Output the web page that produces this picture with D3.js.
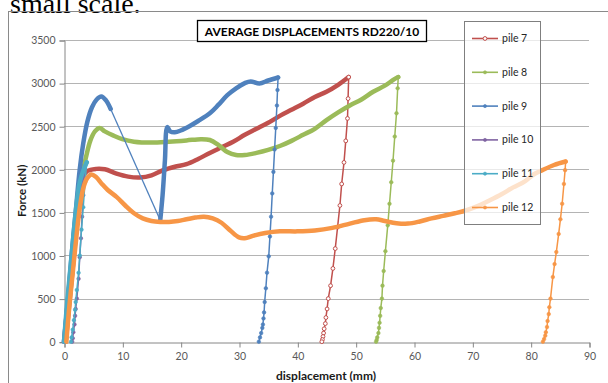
<!DOCTYPE html>
<html>
<head>
<meta charset="utf-8">
<script src="https://cdn.jsdelivr.net/npm/d3@7"></script>
<style>
  html, body { margin: 0; padding: 0; background: #fff; }
  svg { display: block; }
</style>
</head>
<body>
<svg id="chart" width="608" height="383"></svg>
<script>
// Axis ticks
const xTicks = [0, 10, 20, 30, 40, 50, 60, 70, 80, 90];
const yTicks = [0, 500, 1000, 1500, 2000, 2500, 3000, 3500];

// Series names and colours
const seriesNames = ["pile 7", "pile 8", "pile 9", "pile 10", "pile 11", "pile 12"];
const seriesColors = ["#C0504D", "#9BBB59", "#4F81BD", "#8064A2", "#4BACC6", "#F79646"];

// Loading branches [displacement mm, force kN]
const pile7Load = [[0.3,0],[1,500],[1.7,1000],[2.4,1500],[3.2,1900],[4,1980],[5.5,2005],[7,2000],[9,1950],[11,1915],[13,1905],[15,1930],[17,1990],[19,2030],[21,2060],[23,2120],[25,2190],[27,2255],[29,2320],[31,2400],[33,2470],[35,2540],[37,2620],[39,2690],[41,2760],[43,2840],[45,2900],[47,2980],[48.8,3070]];
const pile8Load = [[0.2,0],[0.8,500],[1.5,1000],[2.2,1500],[3,1900],[3.8,2150],[4.5,2330],[5.3,2440],[6.1,2480],[7,2440],[8.5,2390],[10,2350],[12,2320],[15,2310],[18,2320],[21,2335],[23.5,2350],[25,2340],[26.5,2280],[28,2200],[29.5,2165],[31,2165],[33,2190],[35,2225],[37,2270],[39,2330],[41,2400],[43,2470],[45,2570],[47,2660],[49,2740],[51,2810],[53,2900],[55,2970],[56.5,3040],[57.3,3070]];
const pile9Load = [[0,0],[0.7,500],[1.3,1000],[2,1500],[2.7,2000],[3.3,2300],[4,2550],[4.8,2720],[5.6,2810],[6.4,2845],[7.2,2800],[8,2700]];
const pile9Jump = [[8,2700],[16.5,1410]];
const pile9Reload = [[16.5,1410],[16.9,1700],[17.3,2100],[17.7,2490],[18.2,2440],[19,2430],[20,2450],[21.5,2500],[23,2560],[25,2650],[26.5,2750],[28,2860],[29.5,2940],[31,3000],[32,3020],[33.5,2995],[35,3030],[36.7,3065]];
const pile10Load = [[0,0],[0.7,500],[1.4,1000],[2.1,1500],[2.8,1800],[3.4,1950]];
const pile11Load = [[0,0],[0.6,500],[1.3,1000],[2,1500],[2.7,1850],[3.4,2000],[3.9,2080]];
const pile12Load = [[0.4,0],[0.9,400],[1.5,800],[2.1,1200],[2.7,1550],[3.3,1780],[4,1900],[4.7,1940],[5.5,1910],[6.5,1830],[7.5,1760],[9,1680],[10.5,1580],[12,1490],[13.5,1430],[15,1400],[16.5,1390],[18,1390],[19.5,1400],[21,1420],[22.5,1440],[24,1450],[25.5,1430],[27,1380],[28.5,1290],[30,1210],[31,1200],[32.5,1230],[34.5,1260],[37,1280],[40,1280],[43,1290],[46,1320],[49,1370],[51.5,1410],[53.5,1420],[55,1400],[57,1375],[59,1370],[61,1395],[63,1430],[65,1460],[67,1490],[69,1525],[71,1575],[73,1640],[75,1710],[77,1790],[79,1860],[80.5,1940],[82,1990],[84,2050],[86,2090]];

// Unloading branches (individual readings, drawn with markers)
const pile7Unload = [[48.8,3070],[48.7,2820],[48.6,2590],[48.3,2330],[48,2080],[47.6,1830],[47.3,1580],[46.9,1330],[46.5,1080],[46.1,850],[45.7,650],[45.3,500],[45.1,380],[44.9,280],[44.8,210],[44.6,150],[44.5,100],[44.4,60],[44.3,25],[44.2,0]];
const pile8Unload = [[57.3,3070],[57.2,2940],[57,2650],[56.7,2380],[56.4,2100],[56.1,1850],[55.8,1600],[55.5,1350],[55.1,1050],[54.8,820],[54.6,650],[54.5,500],[54.3,390],[54.2,300],[54.1,220],[54,160],[53.9,100],[53.7,50],[53.6,20],[53.5,0]];
const pile9Unload = [[36.7,3065],[36.6,2920],[36.5,2740],[36.3,2480],[36.1,2230],[35.9,1970],[35.7,1720],[35.5,1450],[35.3,1220],[35.1,990],[34.8,800],[34.6,620],[34.4,460],[34.3,340],[34.2,270],[34.1,200],[34,160],[33.8,100],[33.6,50],[33.4,0]];
const pile10Unload = [[3.4,1950],[3.3,1700],[3.1,1450],[2.9,1200],[2.7,980],[2.5,730],[2.2,500],[2.0,380],[1.9,300],[1.8,200],[1.6,110],[1.5,40],[1.4,0]];
const pile11Unload = [[3.9,2080],[3.6,1850],[3.3,1560],[3.0,1300],[2.7,1000],[2.5,800],[2.2,600],[2.0,460],[1.9,370],[1.7,250],[1.5,140],[1.3,50],[1.2,0]];
const pile12Unload = [[86,2090],[85.9,1990],[85.7,1830],[85.4,1600],[85.1,1420],[84.8,1250],[84.4,1040],[84.1,900],[83.8,750],[83.4,500],[83.2,400],[83.1,320],[82.9,240],[82.8,170],[82.6,110],[82.5,70],[82.3,30],[82.1,0]];

const loadBranches = [
  { s: 0, pts: pile7Load }, { s: 1, pts: pile8Load }, { s: 2, pts: pile9Load },
  { s: 2, pts: pile9Reload }, { s: 3, pts: pile10Load }, { s: 4, pts: pile11Load },
  { s: 5, pts: pile12Load }
];
const unloadBranches = [
  { s: 0, pts: pile7Unload }, { s: 1, pts: pile8Unload }, { s: 2, pts: pile9Unload },
  { s: 3, pts: pile10Unload }, { s: 4, pts: pile11Unload }, { s: 5, pts: pile12Unload }
];

const svg = d3.select("#chart");
const FONT = "Lato, 'Open Sans', 'Liberation Sans', sans-serif";

// Line of the surrounding document text, partly hidden above the chart frame
svg.append("text")
  .attr("x", 10).attr("y", 12.5)
  .attr("font-family", "'Liberation Serif', 'DejaVu Serif', serif")
  .attr("font-size", 28)
  .attr("fill", "#000")
  .text("small scale.");

// Chart frame
svg.append("rect")
  .attr("x", 8.5).attr("y", 11.5)
  .attr("width", 700).attr("height", 500)
  .attr("fill", "none")
  .attr("stroke", "#8a8a8a").attr("stroke-width", 1);

const x = d3.scaleLinear().domain([0, 90]).range([64, 589]);
const y = d3.scaleLinear().domain([0, 3500]).range([341.7, 40]);

// Horizontal gridlines
svg.append("g")
  .selectAll("line")
  .data(yTicks.filter(v => v > 0))
  .join("line")
  .attr("x1", x(0)).attr("x2", x(90))
  .attr("y1", d => Math.round(y(d)) + 0.5).attr("y2", d => Math.round(y(d)) + 0.5)
  .attr("stroke", "#b4b4b4").attr("stroke-width", 1);

// Axes
const yAxis = svg.append("g")
  .attr("transform", `translate(${x(0) + 0.5},0.5)`)
  .call(d3.axisLeft(y).tickValues(yTicks).tickSize(5).tickPadding(4).tickFormat(d3.format("d")));
const xAxis = svg.append("g")
  .attr("transform", `translate(0.5,${Math.round(y(0)) + 0.5})`)
  .call(d3.axisBottom(x).tickValues(xTicks).tickSize(5).tickPadding(5).tickFormat(d3.format("d")));
[yAxis, xAxis].forEach(g => {
  g.select(".domain").attr("stroke", "#868686");
  g.selectAll(".tick line").attr("stroke", "#868686");
  g.selectAll(".tick text").attr("fill", "#595959").attr("font-family", FONT).attr("font-size", 10.5);
});

// Axis titles
svg.append("text")
  .attr("transform", `translate(26,${(y(0) + y(3500)) / 2}) rotate(-90)`)
  .attr("text-anchor", "middle")
  .attr("font-family", FONT).attr("font-weight", "bold").attr("font-size", 11.5)
  .attr("fill", "#1a1a1a")
  .text("Force (kN)");
svg.append("text")
  .attr("x", 326).attr("y", 380)
  .attr("text-anchor", "middle")
  .attr("font-family", FONT).attr("font-weight", "bold").attr("font-size", 12)
  .attr("fill", "#1a1a1a")
  .text("displacement (mm)");

// Data layers
const line = d3.line().x(d => x(d[0])).y(d => y(d[1]));
const smooth = d3.line().x(d => x(d[0])).y(d => y(d[1])).curve(d3.curveCatmullRom.alpha(0.5));
const plot = svg.append("g");

// Series drawn in order so that later piles lie on top
seriesNames.forEach((name, i) => {
  const col = seriesColors[i];
  // dense load readings: appear as a thick band
  loadBranches.filter(b => b.s === i).forEach(b => {
    plot.append("path")
      .attr("d", smooth(b.pts))
      .attr("fill", "none").attr("stroke", col)
      .attr("stroke-width", 4.5).attr("stroke-linejoin", "round").attr("stroke-linecap", "round");
  });
  if (i === 2) {
    plot.append("path")
      .attr("d", line(pile9Jump))
      .attr("fill", "none").attr("stroke", col).attr("stroke-width", 1.3);
  }
  unloadBranches.filter(b => b.s === i).forEach(b => {
    plot.append("path")
      .attr("d", line(b.pts))
      .attr("fill", "none").attr("stroke", col).attr("stroke-width", 1.5);
    plot.append("g").selectAll("circle")
      .data(b.pts)
      .join("circle")
      .attr("cx", d => x(d[0])).attr("cy", d => y(d[1]))
      .attr("r", i === 0 ? 1.9 : 1.8)
      .attr("fill", i === 0 ? "#fff" : col)
      .attr("stroke", col).attr("stroke-width", i === 0 ? 1 : 0.6);
  });
});

// Chart title
const titleG = svg.append("g");
titleG.append("rect")
  .attr("x", 197.5).attr("y", 20.5).attr("width", 229).attr("height", 21)
  .attr("fill", "#fff").attr("stroke", "#000").attr("stroke-width", 1.3);
titleG.append("text")
  .attr("x", 312).attr("y", 35.5)
  .attr("text-anchor", "middle")
  .attr("font-family", FONT).attr("font-weight", "bold").attr("font-size", 12)
  .attr("fill", "#000")
  .text("AVERAGE DISPLACEMENTS RD220/10");

// Legend
const legend = svg.append("g");
legend.append("rect")
  .attr("x", 464.5).attr("y", 21.5).attr("width", 76).attr("height", 203)
  .attr("fill", "#fff").attr("fill-opacity", 0.72)
  .attr("stroke", "#7f7f7f").attr("stroke-width", 1);
const legendY = d3.scalePoint().domain(seriesNames).range([38.5, 207.5]);
seriesNames.forEach((name, i) => {
  const col = seriesColors[i];
  const ly = legendY(name);
  legend.append("line")
    .attr("x1", 472).attr("x2", 498).attr("y1", ly).attr("y2", ly)
    .attr("stroke", col).attr("stroke-width", 1.6);
  legend.append("circle")
    .attr("cx", 485).attr("cy", ly).attr("r", i === 0 ? 1.9 : 1.6)
    .attr("fill", i === 0 ? "#fff" : col)
    .attr("stroke", col).attr("stroke-width", i === 0 ? 1 : 0.6);
  legend.append("text")
    .attr("x", 502).attr("y", ly + 3.5)
    .attr("font-family", FONT).attr("font-size", 10.5)
    .attr("fill", "#262626")
    .text(name);
});
</script>
</body>
</html>
